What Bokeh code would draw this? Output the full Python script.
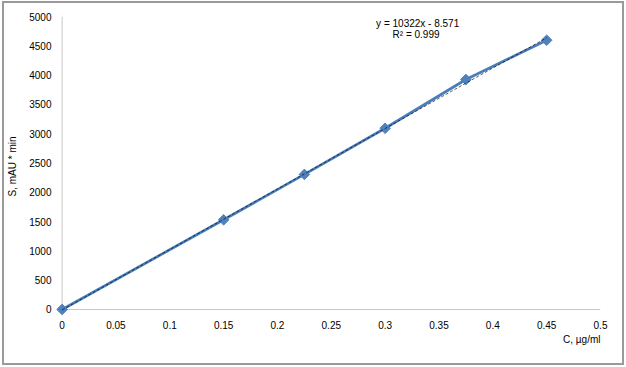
import numpy as np
from bokeh.plotting import figure
from bokeh.models import Range1d, FixedTicker, Label, Title, InlineStyleSheet
from bokeh.embed import file_html
from bokeh.resources import INLINE

# ---- data ----
conc = [0.0, 0.15, 0.225, 0.3, 0.375, 0.45]
area = [0, 1530, 2305, 3092, 3925, 4595]
slope = 10322
intercept = -8.571
r2 = 0.999
x_ticks = [0, 0.05, 0.1, 0.15, 0.2, 0.25, 0.3, 0.35, 0.4, 0.45, 0.5]
x_tick_labels = ["0", "0.05", "0.1", "0.15", "0.2", "0.25", "0.3", "0.35", "0.4", "0.45", "0.5"]
y_ticks = [0, 500, 1000, 1500, 2000, 2500, 3000, 3500, 4000, 4500, 5000]
x_title = "C, µg/ml"
y_title = "S, mAU * min"
eq_text = "y = 10322x  - 8.571"
r2_text = "R² = 0.999"

FONT = "Liberation Sans"
FS = "10px"
X_MAX = 0.5
Y_MAX = 5000

css = InlineStyleSheet(css="""
:host { position: relative; }
:host::after {
  content: '';
  position: absolute;
  left: 2px; top: 1px; right: 2px; bottom: 2px;
  border: 2px solid #9a9a9a;
  pointer-events: none;
  z-index: 1000;
}
""")

p = figure(
    frame_width=547, frame_height=300,
    min_border_left=53, min_border_right=26, min_border_top=16, min_border_bottom=51,
    x_range=Range1d(-0.008, X_MAX), y_range=Range1d(-120, Y_MAX),
    output_backend="svg", toolbar_location=None, stylesheets=[css],
)
p.outline_line_color = None
p.xgrid.visible = False
p.ygrid.visible = False
p.background_fill_color = "white"
p.border_fill_color = "white"

for ax in (p.xaxis[0], p.yaxis[0]):
    ax.axis_line_color = None
    ax.major_tick_line_color = None
    ax.minor_tick_line_color = None
    ax.major_tick_out = 0
    ax.major_tick_in = 0
    ax.major_label_text_font = FONT
    ax.major_label_text_font_size = FS
    ax.major_label_text_color = "#000000"

p.xaxis[0].ticker = FixedTicker(ticks=x_ticks)
p.xaxis[0].major_label_overrides = {t: l for t, l in zip(x_ticks, x_tick_labels)}
p.xaxis[0].major_label_standoff = 4

p.yaxis[0].ticker = FixedTicker(ticks=y_ticks)
p.yaxis[0].major_label_standoff = 2
p.yaxis[0].axis_label = y_title
p.yaxis[0].axis_label_text_font = FONT
p.yaxis[0].axis_label_text_font_size = FS
p.yaxis[0].axis_label_text_font_style = "normal"
p.yaxis[0].axis_label_text_color = "#000000"
p.yaxis[0].axis_label_standoff = 8

# x axis title as a right-aligned title below
p.add_layout(Title(text=x_title, align="right", text_font=FONT, text_font_size=FS,
                   text_font_style="normal", text_color="#000000", standoff=0), "below")

# own axis lines at x=0 and y=0
p.segment(x0=[0], y0=[0], x1=[X_MAX], y1=[0], line_color="#c8c8c8", line_width=1)
p.segment(x0=[0], y0=[0], x1=[0], y1=[Y_MAX], line_color="#c8c8c8", line_width=1)

# data series
p.line(conc, area, line_color="#4a7ebb", line_width=2.75)
p.scatter(conc, area, marker="square", angle=np.pi / 4, size=7.5,
          fill_color="#4f81bd", line_color="#4f81bd")

# trendline
tx = np.array([conc[0], conc[-1]])
ty = slope * tx + intercept
p.line(tx, ty, line_color="#000000", line_width=0.8, line_dash="3 2", line_alpha=0.8)

# equation texts
p.add_layout(Label(x=0.3315, y=4880, text=eq_text, text_align="center", text_baseline="middle",
                   text_font=FONT, text_font_size=FS, text_color="#000000"))
p.add_layout(Label(x=0.3287, y=4700, text=r2_text, text_align="center", text_baseline="middle",
                   text_font=FONT, text_font_size=FS, text_color="#000000"))

open("out.html", "w").write(file_html(p, INLINE))
